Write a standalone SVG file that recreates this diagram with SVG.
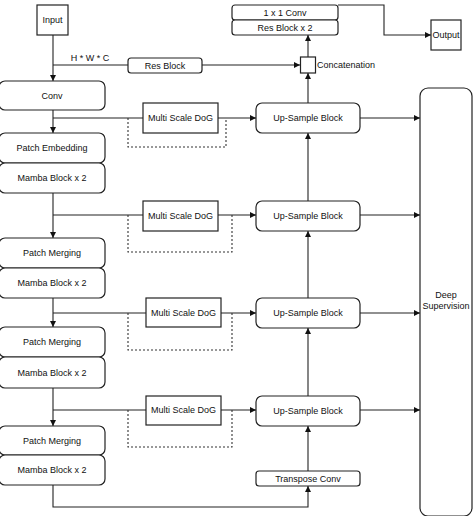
<svg xmlns="http://www.w3.org/2000/svg" width="474" height="516" viewBox="0 0 474 516">
<defs>
<marker id="ah" viewBox="0 0 10 10" refX="10" refY="5" markerWidth="6" markerHeight="6" orient="auto" markerUnits="userSpaceOnUse">
<path d="M0,0 L10,5 L0,10 Z" fill="#111"/>
</marker>
<style>
.n{fill:#fff;stroke:#222;stroke-width:1.2}
.t{font-family:"Liberation Sans",Arial,sans-serif;font-size:9px;fill:#111;text-anchor:middle;dominant-baseline:central}
.l{fill:none;stroke:#222;stroke-width:1.1}
.a{fill:none;stroke:#222;stroke-width:1.1;marker-end:url(#ah)}
.d{fill:none;stroke:#333;stroke-width:1.1;stroke-dasharray:2,2}
</style>
</defs>
<rect width="474" height="516" fill="#fff"/>
<g id="connectors">
<path class="a" d="M53,35 V81"/>
<path class="l" d="M53,65 H128"/>
<path class="a" d="M202,65 H300"/>
<path class="a" d="M53,110 V133"/>
<path class="l" d="M53,118 H143"/>
<path class="a" d="M218,118 H256"/>
<path class="d" d="M128,118 V147 H226 V118"/>
<path class="a" d="M53,193 V238"/>
<path class="l" d="M53,215 H143"/>
<path class="a" d="M218,215 H256"/>
<path class="d" d="M128,215 V252 H232 V215"/>
<path class="a" d="M53,298 V327"/>
<path class="l" d="M53,313 H146"/>
<path class="a" d="M221,313 H256"/>
<path class="d" d="M128,313 V350 H232 V313"/>
<path class="a" d="M53,388 V426"/>
<path class="l" d="M53,410 H146"/>
<path class="a" d="M221,410 H256"/>
<path class="d" d="M128,410 V447 H232 V410"/>
<path class="a" d="M53,485 V507 H308 V486"/>
<path class="a" d="M308,471 V426"/>
<path class="a" d="M308,396 V328"/>
<path class="a" d="M308,298 V231"/>
<path class="a" d="M308,201 V133"/>
<path class="a" d="M308,103 V73"/>
<path class="a" d="M308,57 V35"/>
<path class="a" d="M338,5 H384 V35 H431"/>
<path class="a" d="M360,118 H420"/>
<path class="a" d="M360,215 H420"/>
<path class="a" d="M360,313 H420"/>
<path class="a" d="M360,410 H420"/>
</g>
<g id="input"><rect class="n" x="37" y="5" width="31" height="30"/><text class="t" x="52.5" y="20">Input</text></g>
<g id="hwc-label"><text class="t" x="90" y="58">H * W * C</text></g>
<g id="res-block"><rect class="n" x="128" y="58" width="74" height="15" rx="3"/><text class="t" x="165" y="65.5">Res Block</text></g>
<g id="conv"><rect class="n" x="-1" y="81" width="106" height="29" rx="6"/><text class="t" x="52" y="95.5">Conv</text></g>
<g id="patch-embedding"><rect class="n" x="-1" y="133" width="106" height="30" rx="6"/><text class="t" x="52" y="148">Patch Embedding</text></g>
<g id="mamba-1"><rect class="n" x="-1" y="163" width="106" height="30" rx="6"/><text class="t" x="52" y="178">Mamba Block x 2</text></g>
<g id="patch-merging-1"><rect class="n" x="-1" y="238" width="106" height="30" rx="6"/><text class="t" x="52" y="253">Patch Merging</text></g>
<g id="mamba-2"><rect class="n" x="-1" y="268" width="106" height="30" rx="6"/><text class="t" x="52" y="283">Mamba Block x 2</text></g>
<g id="patch-merging-2"><rect class="n" x="-1" y="327" width="106" height="30" rx="6"/><text class="t" x="52" y="342">Patch Merging</text></g>
<g id="mamba-3"><rect class="n" x="-1" y="357" width="106" height="31" rx="6"/><text class="t" x="52" y="372.5">Mamba Block x 2</text></g>
<g id="patch-merging-3"><rect class="n" x="-1" y="426" width="106" height="29" rx="6"/><text class="t" x="52" y="440.5">Patch Merging</text></g>
<g id="mamba-4"><rect class="n" x="-1" y="455" width="106" height="30" rx="6"/><text class="t" x="52" y="470">Mamba Block x 2</text></g>
<g id="dog-1"><rect class="n" x="143" y="103" width="75" height="30"/><text class="t" x="180.5" y="118">Multi Scale DoG</text></g>
<g id="dog-2"><rect class="n" x="143" y="201" width="75" height="30"/><text class="t" x="180.5" y="215.5">Multi Scale DoG</text></g>
<g id="dog-3"><rect class="n" x="146" y="298" width="75" height="29"/><text class="t" x="183.5" y="312.5">Multi Scale DoG</text></g>
<g id="dog-4"><rect class="n" x="146" y="396" width="75" height="29"/><text class="t" x="183.5" y="410">Multi Scale DoG</text></g>
<g id="upsample-1"><rect class="n" x="256" y="103" width="104" height="30" rx="6"/><text class="t" x="308" y="118">Up-Sample Block</text></g>
<g id="upsample-2"><rect class="n" x="256" y="201" width="104" height="30" rx="6"/><text class="t" x="308" y="215.5">Up-Sample Block</text></g>
<g id="upsample-3"><rect class="n" x="256" y="298" width="104" height="30" rx="6"/><text class="t" x="308" y="313">Up-Sample Block</text></g>
<g id="upsample-4"><rect class="n" x="256" y="396" width="104" height="30" rx="6"/><text class="t" x="308" y="410.5">Up-Sample Block</text></g>
<g id="transpose-conv"><rect class="n" x="256" y="471" width="104" height="15" rx="3"/><text class="t" x="308" y="478.5">Transpose Conv</text></g>
<g id="concatenation"><rect class="n" x="300.5" y="57" width="15" height="16"/><text class="t" x="317" y="65" style="text-anchor:start">Concatenation</text></g>
<g id="conv-1x1"><rect class="n" x="232" y="5" width="106" height="15" rx="3"/><text class="t" x="285" y="12.5">1 x 1 Conv</text></g>
<g id="res-block-2"><rect class="n" x="232" y="20" width="106" height="15" rx="3"/><text class="t" x="285" y="27.5">Res Block x 2</text></g>
<g id="output"><rect class="n" x="431" y="20" width="30" height="30"/><text class="t" x="446" y="35">Output</text></g>
<g id="deep-supervision"><rect class="n" x="420" y="88" width="52" height="428" rx="8"/><text class="t" x="446" y="295">Deep</text><text class="t" x="446" y="306">Supervision</text></g>
</svg>
